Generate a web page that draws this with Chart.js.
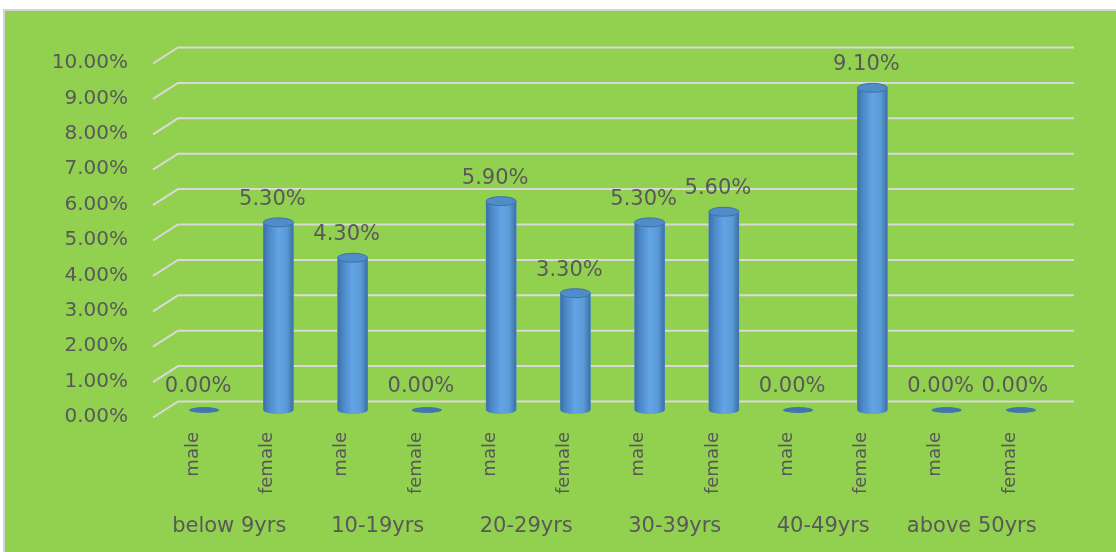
<!DOCTYPE html>
<html>
<head>
<meta charset="utf-8">
<script src="https://cdn.jsdelivr.net/npm/chart.js@4.4.1/dist/chart.umd.min.js"></script>
<style>
html,body{margin:0;padding:0;background:#fff;}
canvas{display:block;}
</style>
</head>
<body>
<canvas id="c" width="1116" height="552"></canvas>
<script>
const groups = ['below 9yrs', '10-19yrs', '20-29yrs', '30-39yrs', '40-49yrs', 'above 50yrs'];
const sexes = ['male', 'female'];
const maleValues = [0.0, 4.3, 5.9, 5.3, 0.0, 0.0];
const femaleValues = [5.3, 0.0, 3.3, 5.6, 9.1, 0.0];
const yTicks = [0, 1, 2, 3, 4, 5, 6, 7, 8, 9, 10];

const labels = [];
const values = [];
groups.forEach((g, i) => {
  labels.push(sexes[0]); values.push(maleValues[i]);
  labels.push(sexes[1]); values.push(femaleValues[i]);
});

const TEXT = '#595959';
const FONT = "'DejaVu Sans', Verdana, sans-serif";
Chart.defaults.font.family = FONT;
Chart.defaults.color = TEXT;

const bgPlugin = {
  id: 'bg',
  beforeDraw(chart) {
    const ctx = chart.ctx;
    ctx.save();
    ctx.fillStyle = '#ffffff';
    ctx.fillRect(0, 0, chart.width, chart.height);
    ctx.fillStyle = '#d4d4d4';
    ctx.fillRect(3, 9, chart.width - 3, chart.height - 9);
    ctx.fillStyle = '#92D050';
    ctx.fillRect(5, 11, chart.width - 5, chart.height - 11);
    ctx.restore();
  }
};

const gridPlugin = {
  id: 'grid3d',
  beforeDatasetsDraw(chart) {
    const ctx = chart.ctx;
    const y = chart.scales.y;
    const a = chart.chartArea;
    ctx.save();
    ctx.strokeStyle = '#d9d9d9';
    ctx.lineWidth = 2;
    yTicks.forEach(v => {
      const py = y.getPixelForValue(v) - 8.5;
      ctx.beginPath();
      ctx.moveTo(a.left - 14, py + 16);
      ctx.lineTo(a.left + 11, py);
      ctx.lineTo(a.right + 16, py);
      ctx.stroke();
    });
    ctx.restore();
  }
};

const cylPlugin = {
  id: 'cyl',
  afterDatasetsDraw(chart) {
    const ctx = chart.ctx;
    const meta = chart.getDatasetMeta(0);
    ctx.save();
    meta.data.forEach((bar, i) => {
      const p = bar.getProps(['x', 'y', 'base', 'width'], true);
      const w = p.width, rx = w / 2, ry = 4;
      const l = p.x - rx, r = p.x + rx;
      const v = values[i];
      if (v > 0) {
        const g = ctx.createLinearGradient(l, 0, r, 0);
        g.addColorStop(0, '#3b6fa6');
        g.addColorStop(0.18, '#4c88c6');
        g.addColorStop(0.5, '#62a4e6');
        g.addColorStop(0.78, '#5a9ad6');
        g.addColorStop(1, '#3c6fa4');
        ctx.fillStyle = g;
        ctx.beginPath();
        ctx.moveTo(l, p.y);
        ctx.lineTo(l, p.base);
        ctx.ellipse(p.x, p.base, rx, ry, 0, Math.PI, 0, true);
        ctx.lineTo(r, p.y);
        ctx.closePath();
        ctx.fill();
        // top cap
        ctx.beginPath();
        ctx.ellipse(p.x, p.y, rx, ry + 0.5, 0, 0, Math.PI * 2);
        ctx.fillStyle = '#4f8cc8';
        ctx.fill();
        ctx.strokeStyle = '#3e73a8';
        ctx.lineWidth = 1;
        ctx.stroke();
      } else {
        ctx.beginPath();
        ctx.ellipse(p.x, p.base, rx, 3, 0, 0, Math.PI * 2);
        ctx.fillStyle = '#3f76ae';
        ctx.fill();
      }
    });
    ctx.restore();
  }
};

const labelPlugin = {
  id: 'vlabels',
  afterDatasetsDraw(chart) {
    const ctx = chart.ctx;
    const meta = chart.getDatasetMeta(0);
    ctx.save();
    ctx.font = '21px ' + FONT;
    ctx.fillStyle = TEXT;
    ctx.textAlign = 'center';
    ctx.textBaseline = 'middle';
    meta.data.forEach((bar, i) => {
      const p = bar.getProps(['x', 'y'], true);
      ctx.fillText(values[i].toFixed(2) + '%', p.x - 6, p.y - 23);
    });
    ctx.restore();
  }
};

new Chart(document.getElementById('c'), {
  type: 'bar',
  data: {
    labels: labels,
    datasets: [{
      data: values,
      backgroundColor: '#5b9bd5',
      borderWidth: 0,
      barThickness: 30
    }]
  },
  plugins: [bgPlugin, gridPlugin, cylPlugin, labelPlugin],
  options: {
    responsive: false,
    animation: false,
    events: [],
    layout: { padding: { left: 6, right: 58, top: 56, bottom: 7 } },
    plugins: { legend: { display: false }, tooltip: { enabled: false } },
    scales: {
      y: {
        min: 0, max: 10,
        afterBuildTicks(s) { s.ticks = yTicks.map(v => ({ value: v })); },
        afterFit(s) { s.width = 161; },
        grid: { display: false, drawTicks: false },
        border: { display: false },
        ticks: {
          padding: 39,
          labelOffset: 7,
          font: { size: 20 },
          color: TEXT,
          callback: v => Number(v).toFixed(2) + '%'
        }
      },
      x: {
        position: 'bottom',
        afterFit(s) { s.height = 100; },
        grid: { display: false, drawTicks: false },
        border: { display: false },
        ticks: {
          autoSkip: false,
          minRotation: 90,
          maxRotation: 90,
          padding: 22,
          labelOffset: -11,
          font: { size: 18 },
          color: TEXT
        }
      },
      x2: {
        type: 'category',
        position: 'bottom',
        labels: groups,
        offset: true,
        afterFit(s) { s.height = 35; },
        grid: { display: false, drawTicks: false },
        border: { display: false },
        ticks: {
          autoSkip: false,
          maxRotation: 0,
          padding: 4,
          labelOffset: -12,
          font: { size: 21 },
          color: TEXT
        }
      }
    }
  }
});
</script>
</body>
</html>
